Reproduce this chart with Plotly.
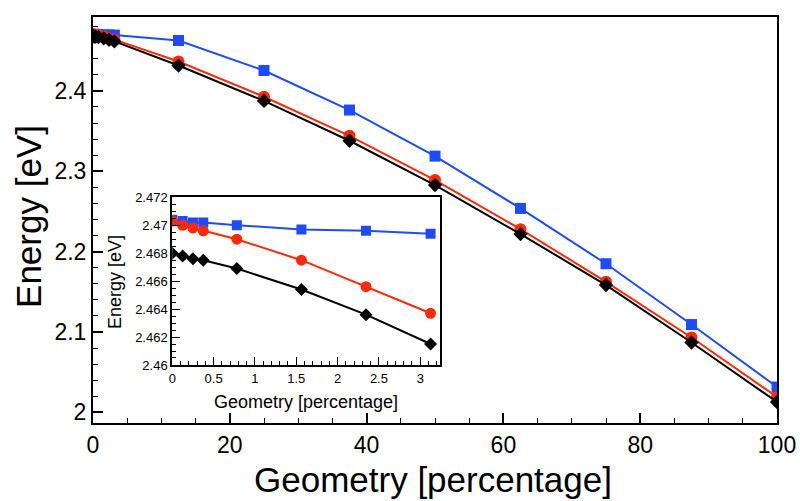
import plotly.graph_objects as go

# ---- data ----
geometry = [0, 0.125, 0.25, 0.375, 0.78125, 1.5625, 2.34375, 3.125,
            12.5, 25, 37.5, 50, 62.5, 75, 87.5, 100]

energy_blue = [2.4704, 2.4703, 2.4702, 2.4702, 2.4700, 2.4697, 2.4696, 2.4694,
               2.4627, 2.4253, 2.3761, 2.3188, 2.2537, 2.1849, 2.1092, 2.0315]
energy_red = [2.4703, 2.4700, 2.4698, 2.4696, 2.4690, 2.4675, 2.4656, 2.4637,
              2.4365, 2.3927, 2.3441, 2.2890, 2.2279, 2.1624, 2.0931, 2.0191]
energy_black = [2.4680, 2.4678, 2.4676, 2.4675, 2.4669, 2.4654, 2.4636, 2.4615,
                2.4315, 2.3875, 2.3379, 2.2827, 2.2218, 2.1583, 2.0869, 2.0128]

x_title = "Geometry [percentage]"
y_title = "Energy [eV]"

n_inset = 8  # first points belong to the zoomed region

BLUE = "#1f4bff"
RED = "#ff2a0a"
BLACK = "#000000"
FONT = "Liberation Sans, Arial, Helvetica, sans-serif"

series = [
    (energy_blue, BLUE, "square", 11),
    (energy_red, RED, "circle", 12),
    (energy_black, BLACK, "diamond", 11),
]

fig = go.Figure()
for ys, col, sym, sz in series:
    fig.add_trace(go.Scatter(
        x=geometry, y=ys, mode="lines+markers",
        line=dict(color=col, width=2),
        marker=dict(symbol=sym, size=sz, color=col),
        xaxis="x", yaxis="y", showlegend=False))
for ys, col, sym, sz in series:
    fig.add_trace(go.Scatter(
        x=geometry[:n_inset], y=ys[:n_inset], mode="lines+markers",
        line=dict(color=col, width=2),
        marker=dict(symbol=sym, size=sz - 1, color=col),
        xaxis="x2", yaxis="y2", showlegend=False))

axis_common = dict(showgrid=False, zeroline=False, showline=True, linecolor="black",
                   mirror=True, ticks="inside", tickcolor="black", automargin=False)

fig.update_layout(
    width=800, height=501, autosize=False,
    margin=dict(l=93, r=23, t=17, b=78, pad=0),
    paper_bgcolor="white", plot_bgcolor="white",
    font=dict(family=FONT, color="black"),
    xaxis=dict(**axis_common, range=[0, 100], dtick=20, tick0=0,
               linewidth=2, ticklen=10, tickwidth=1.5,
               minor=dict(dtick=5, ticks="inside", ticklen=5, tickwidth=1.2, tickcolor="black"),
               tickfont=dict(size=23)),
    yaxis=dict(**axis_common, range=[1.9867, 2.4919], dtick=0.1, tick0=2,
               linewidth=2, ticklen=10, tickwidth=1.5,
               minor=dict(dtick=0.02, ticks="inside", ticklen=5, tickwidth=1.2, tickcolor="black"),
               tickfont=dict(size=23)),
    xaxis2=dict(**axis_common, domain=[0.1159, 0.5073], anchor="y2",
                range=[0, 3.239], dtick=0.5, tick0=0,
                linewidth=2, ticklen=8, tickwidth=1.3,
                minor=dict(dtick=0.1, ticks="inside", ticklen=4, tickwidth=1, tickcolor="black"),
                tickfont=dict(size=13)),
    yaxis2=dict(**axis_common, domain=[0.1429, 0.5559], anchor="x2",
                range=[2.46, 2.472], dtick=0.002, tick0=2.46,
                linewidth=2, ticklen=8, tickwidth=1.3,
                minor=dict(dtick=0.0005, ticks="inside", ticklen=4, tickwidth=1, tickcolor="black"),
                tickfont=dict(size=13)),
    annotations=[
        dict(text=x_title, xref="paper", yref="paper", x=0.497, y=-0.138,
             xanchor="center", yanchor="middle", showarrow=False, font=dict(size=35)),
        dict(text=y_title, xref="paper", yref="paper", x=-0.0936, y=0.5099,
             xanchor="center", yanchor="middle", textangle=-90, showarrow=False,
             font=dict(size=35)),
        dict(text=x_title, xref="paper", yref="paper", x=0.3114, y=0.0517,
             xanchor="center", yanchor="middle", showarrow=False, font=dict(size=18)),
        dict(text=y_title, xref="paper", yref="paper", x=0.0322, y=0.3473,
             xanchor="center", yanchor="middle", textangle=-90, showarrow=False,
             font=dict(size=18)),
    ],
)

fig.write_html("out.html", config={"displayModeBar": False},
               post_script="document.body.style.margin='0';document.body.style.overflow='hidden';")
